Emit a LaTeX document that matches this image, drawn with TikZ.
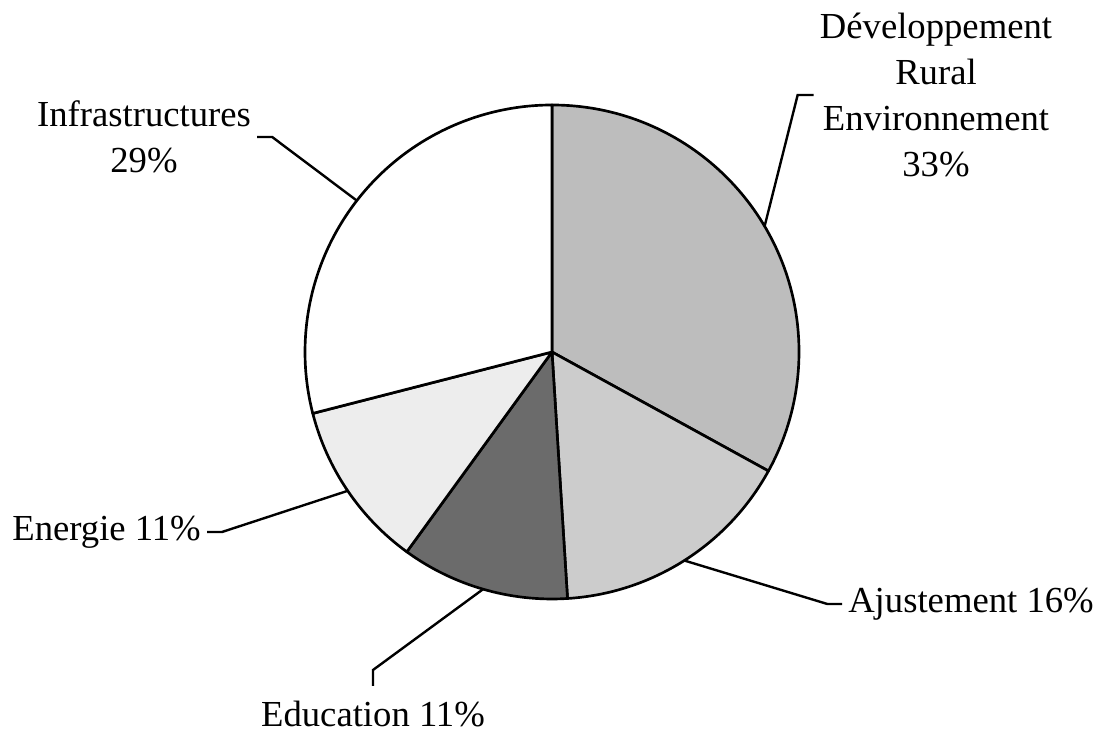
\documentclass[tikz,border=0pt]{standalone}
\usepackage{fontspec}
\setmainfont{Liberation Serif}
\usetikzlibrary{positioning,calc}
\definecolor{pieDev}{gray}{0.74}
\definecolor{pieAjust}{gray}{0.80}
\definecolor{pieEduc}{gray}{0.42}
\definecolor{pieEnergie}{gray}{0.93}
\definecolor{pieInfra}{gray}{1}

\tikzset{
  slice/.style={draw=black, line width=2pt, line join=round},
  leader/.style={draw=black, line width=1.8pt},
  lbl/.style={font=\fontsize{27.5}{34.5}\selectfont, align=center, inner sep=4.5pt}
}

\begin{document}
\begin{tikzpicture}[x=0.75pt,y=0.75pt]
\useasboundingbox (0,0) rectangle (1107,738);
\coordinate (c) at (552,386);
% slices, clockwise from the top
\filldraw[slice, fill=pieDev] (c) -- ++(90:247) arc[start angle=90, end angle=-28.8, radius=247] -- cycle;
\filldraw[slice, fill=pieAjust] (c) -- ++(-28.8:247) arc[start angle=-28.8, end angle=-86.4, radius=247] -- cycle;
\filldraw[slice, fill=pieEduc] (c) -- ++(-86.4:247) arc[start angle=-86.4, end angle=-126, radius=247] -- cycle;
\filldraw[slice, fill=pieEnergie] (c) -- ++(-126:247) arc[start angle=-126, end angle=-165.6, radius=247] -- cycle;
\filldraw[slice, fill=pieInfra] (c) -- ++(-165.6:247) arc[start angle=-165.6, end angle=-270, radius=247] -- cycle;
% leader starts on the rim
\coordinate (pDev) at ($(c)+(30.6:247)$);
\coordinate (pAjust) at ($(c)+(-57.6:247)$);
\coordinate (pEduc) at ($(c)+(-106.2:247)$);
\coordinate (pEnergie) at ($(c)+(-145.8:247)$);
\coordinate (pInfra) at ($(c)+(142.2:247)$);
% labels
\node[lbl] (dev) at (936,643) {Développement\\Rural\\Environnement\\33\%};
\node[lbl] (infra) at (144,601) {Infrastructures\\29\%};
\node[lbl, anchor=east] (energie) at (207,206) {Energie 11\%};
\node[lbl, anchor=west] (ajust) at (842,134) {Ajustement 16\%};
\node[lbl, anchor=north, inner ysep=11pt] (educ) at (373,52) {Education 11\%};
% leaders
\draw[leader] (pDev) -- ([xshift=-12pt]dev.west) -- (dev.west);
\draw[leader] (pInfra) -- ([xshift=11.25pt]infra.east) -- (infra.east);
\draw[leader] (pEnergie) -- ([xshift=11.25pt]energie.east) -- (energie.east);
\draw[leader] (pAjust) -- ([xshift=-11pt]ajust.west) -- (ajust.west);
\draw[leader] (pEduc) -- ([yshift=12pt]educ.north) -- (educ.north);
\end{tikzpicture}
\end{document}
